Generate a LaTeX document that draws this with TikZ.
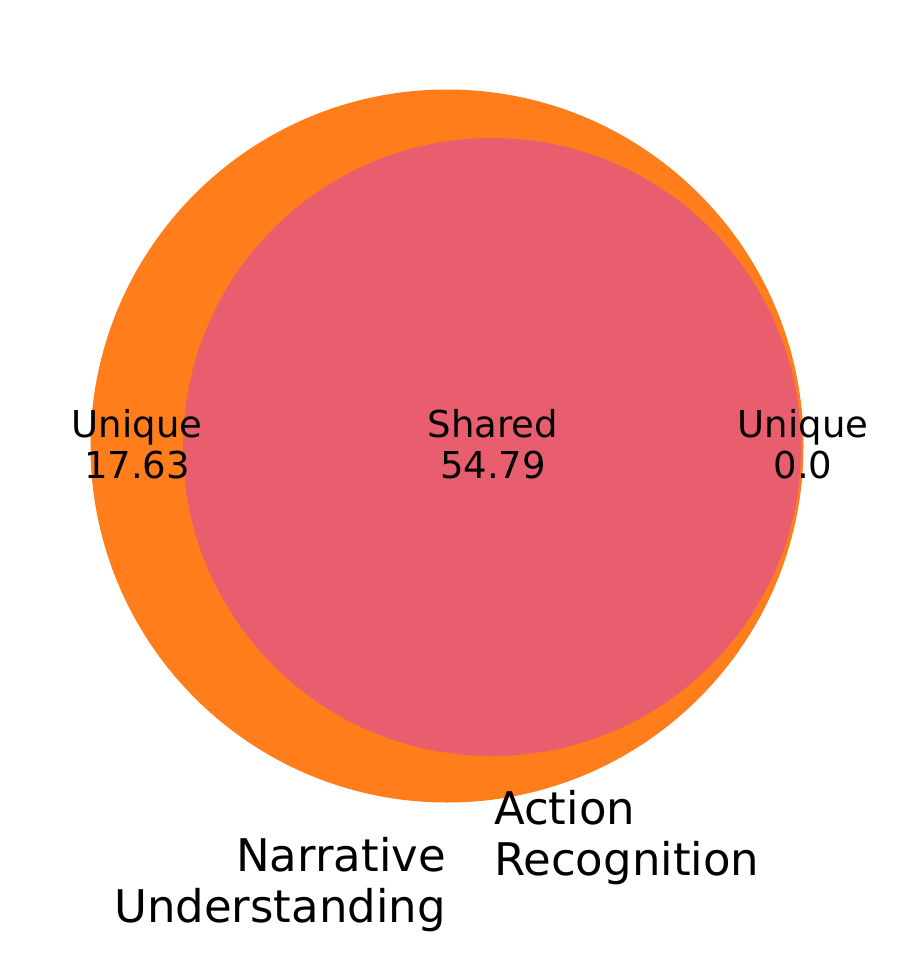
\documentclass[tikz,border=0pt]{standalone}
\usepackage{fontspec}
\setmainfont{DejaVu Sans}
\definecolor{vorange}{RGB}{255,125,26}
\definecolor{vpink}{RGB}{232,94,110}
\tikzset{
  small/.style={font=\fontsize{37}{41}\selectfont, inner sep=0pt, align=center},
  big/.style={font=\fontsize{45}{51}\selectfont, inner sep=0pt},
}
\begin{document}
\begin{tikzpicture}[x=1pt,y=-1pt]
\useasboundingbox (0,0) rectangle (897,959);
\fill[vorange] (447,446) circle[radius=356.5];
\fill[vpink] (492,447) circle[radius=309];
\node[small, anchor=base] (uL) at (137,478) {Unique\\17.63};
\node[small, anchor=base] (sh) at (493,478) {Shared\\54.79};
\node[small, anchor=base] (uR) at (803,478) {Unique\\0.0};
\node[big, anchor=base east, align=right] (nu) at (446,922) {Narrative\\Understanding};
\node[big, anchor=base west, align=left] (ar) at (494,875) {Action\\Recognition};
\end{tikzpicture}
\end{document}
